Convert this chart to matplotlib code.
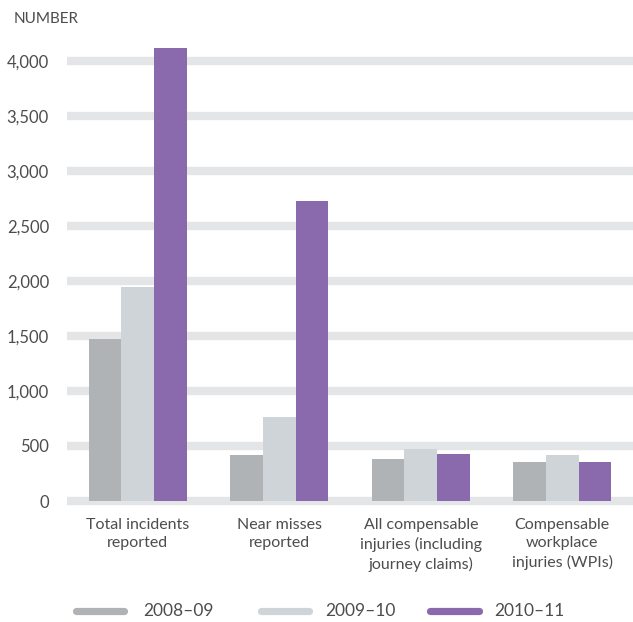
import matplotlib.pyplot as plt
import numpy as np
from matplotlib.lines import Line2D

categories = [
    "Total incidents\nreported",
    "Near misses\nreported",
    "All compensable\ninjuries (including\njourney claims)",
    "Compensable\nworkplace\ninjuries (WPIs)",
]
years = ["2008\u201309", "2009\u201310", "2010\u201311"]
values = {
    "2008\u201309": [1475, 420, 385, 355],
    "2009\u201310": [1945, 765, 475, 420],
    "2010\u201311": [4115, 2725, 430, 355],
}
yticks = [0, 500, 1000, 1500, 2000, 2500, 3000, 3500, 4000]

colors = ["#b0b3b6", "#cfd4d8", "#8a69ad"]
text_color = "#4d4d4d"
grid_color = "#e4e5e6"

plt.rcParams["font.family"] = ["Lato", "DejaVu Sans"]

W, H = 633, 622
fig = plt.figure(figsize=(W / 100, H / 100), dpi=100)
# axes spans pixel x 67..633, y 40..501 (0 baseline)
ax = fig.add_axes([67 / W, (H - 501) / H, (633 - 67) / W, (501 - 40) / H])

x = np.arange(len(categories))
width = 0.232
ax.set_xlim(-0.5, 3.5)
ax.set_ylim(0, (501 - 40) / 0.11)

for yv in yticks:
    ax.axhline(yv, color=grid_color, lw=6, zorder=0, clip_on=False,
               solid_capstyle="butt")

for i, (yr, c) in enumerate(zip(years, colors)):
    ax.bar(x + (i - 1) * width, values[yr], width=width, color=c, zorder=2)

for s in ax.spines.values():
    s.set_visible(False)
ax.set_yticks(yticks)
ax.set_yticklabels([f"{v:,}" for v in yticks], fontsize=12, color=text_color)
ax.tick_params(axis="y", length=0, pad=13)
ax.set_xticks([])

for xi, lab in zip(x, categories):
    ax.annotate(lab, xy=(xi, 0), xycoords=("data", "axes fraction"),
                xytext=(0, -12), textcoords="offset points",
                ha="center", va="top", fontsize=11.5, color=text_color,
                linespacing=1.42)

fig.text(14 / W, 1 - 19 / H, "NUMBER", fontsize=11, color=text_color,
         ha="left", va="center")

# legend: rounded swatches with labels
legend_y = 1 - 611 / H
swatches = [(76, 124, 143), (261, 309, 325), (430, 479, 494)]
for (x0, x1, tx), yr, c in zip(swatches, years, colors):
    fig.add_artist(Line2D([x0 / W, x1 / W], [legend_y, legend_y], color=c,
                          lw=5.2, solid_capstyle="round", transform=fig.transFigure))
    fig.text(tx / W, legend_y, yr, fontsize=12.5, color=text_color,
             ha="left", va="center")

fig.savefig("out.png", dpi=100)
